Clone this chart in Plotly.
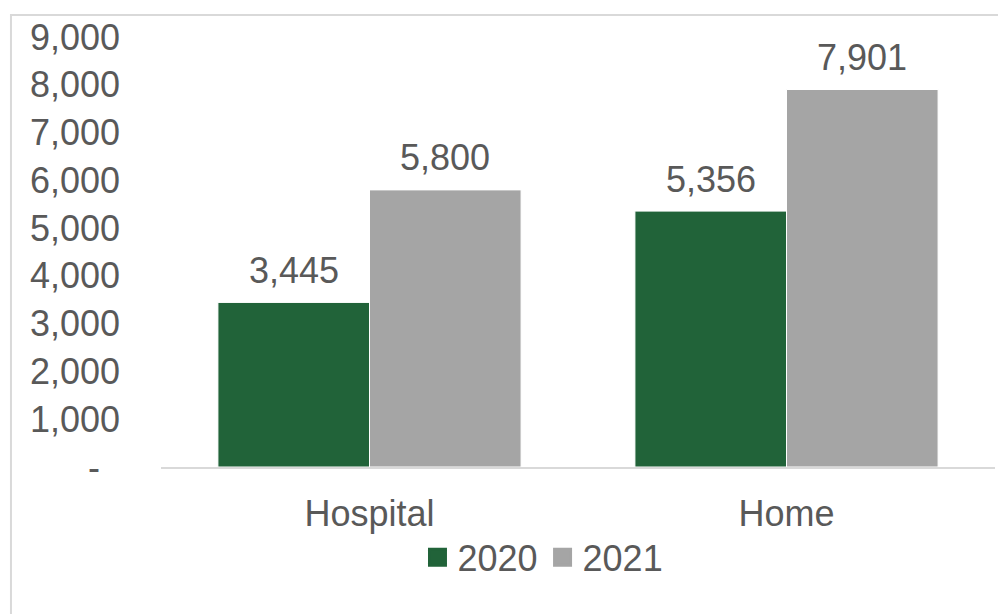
import plotly.graph_objects as go

categories = ["Hospital", "Home"]
series_names = ["2020", "2021"]
values_2020 = [3445, 5356]
values_2021 = [5800, 7901]
colors = ["#216339", "#A5A5A5"]
ytick_vals = [0, 1000, 2000, 3000, 4000, 5000, 6000, 7000, 8000, 9000]
ytick_text = ["-\u00a0\u00a0", "1,000", "2,000", "3,000", "4,000", "5,000", "6,000", "7,000", "8,000", "9,000"]

FONT = "Liberation Sans, Arial, sans-serif"
TXT = "#595959"
FS = 36

fig = go.Figure()
all_vals = [values_2020, values_2021]
for name, vals, col in zip(series_names, all_vals, colors):
    fig.add_trace(go.Bar(
        x=categories, y=vals, name=name, legendgroup=name, showlegend=False,
        marker=dict(color=col, line=dict(color="white", width=1)),
    ))
# legend entries with larger square swatches
for name, col in zip(series_names, colors):
    fig.add_trace(go.Scatter(
        x=[None], y=[None], mode="markers", name=name, legendgroup=name,
        marker=dict(symbol="square", size=16, color=col, line=dict(color=col, width=3)),
    ))

# data labels
annotations = []
for i, (name, vals) in enumerate(zip(series_names, all_vals)):
    for j, (c, v) in enumerate(zip(categories, vals)):
        annotations.append(dict(
            x=j + (-0.1818 if i == 0 else 0.1818), y=v, xref="x", yref="y",
            text=f"{v:,}", showarrow=False, yanchor="middle", yshift=32,
            font=dict(family=FONT, size=FS, color=TXT),
        ))

fig.update_layout(
    width=998, height=614,
    margin=dict(l=161, r=3, t=37, b=147),
    paper_bgcolor="white", plot_bgcolor="white",
    barmode="group", bargap=0.273, bargroupgap=0,
    font=dict(family=FONT, size=FS, color=TXT),
    showlegend=True,
    legend=dict(orientation="h", x=0.458, xanchor="center", y=-0.21, yanchor="middle",
                font=dict(family=FONT, size=FS, color=TXT), bgcolor="rgba(0,0,0,0)",
                itemwidth=30, tracegroupgap=0),
    annotations=annotations,
    shapes=[dict(type="rect", xref="paper", yref="paper",
                 x0=-0.1799, x1=1.03, y0=-0.4, y1=1.0512,
                 line=dict(color="#D9D9D9", width=2), fillcolor="rgba(0,0,0,0)", layer="below")],
)
fig.update_xaxes(showline=True, linecolor="#D9D9D9", linewidth=2, ticks="",
                 tickfont=dict(family=FONT, size=FS, color=TXT), ticklabelstandoff=14,
                 showgrid=False, zeroline=False)
fig.update_yaxes(range=[0, 9000], tickvals=ytick_vals, ticktext=ytick_text,
                 showgrid=False, zeroline=False, showline=False, ticks="",
                 tickfont=dict(family=FONT, size=FS, color=TXT), ticklabelstandoff=40)

fig.write_html("out.html")
